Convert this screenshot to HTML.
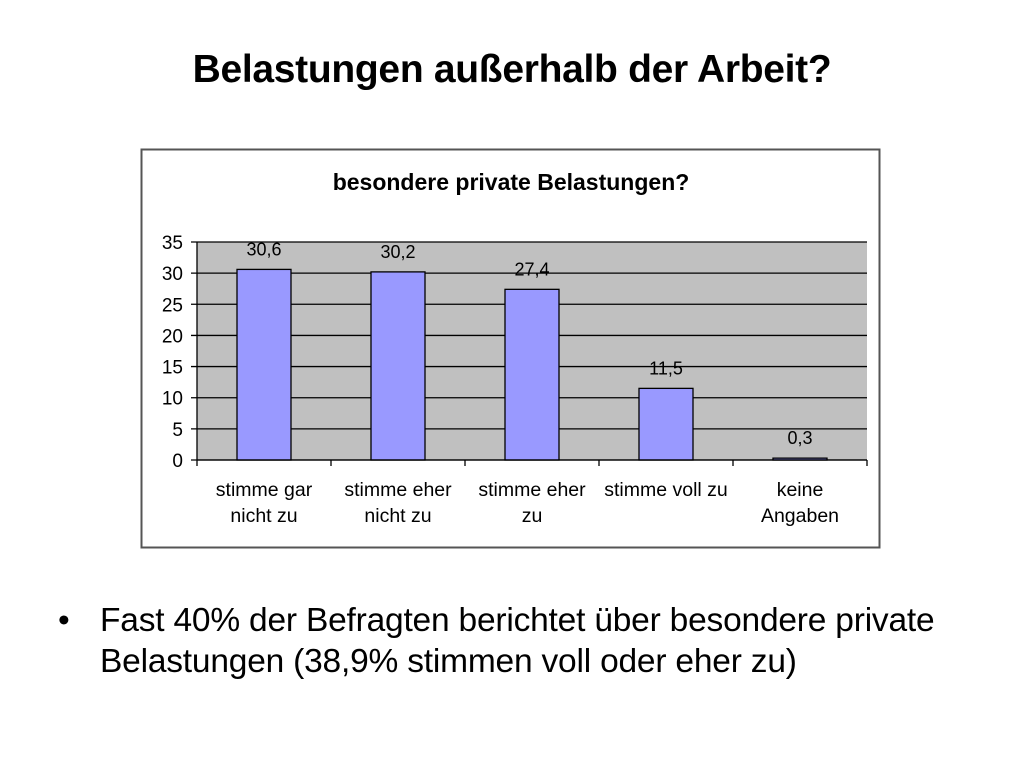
<!DOCTYPE html>
<html><head><meta charset="utf-8"><style>
body{margin:0;width:1024px;height:768px;background:#fff;font-family:"Liberation Sans",sans-serif;overflow:hidden;position:relative}
#title{position:absolute;top:48px;left:0;width:1024px;text-align:center;font-size:39px;font-weight:bold;letter-spacing:-0.3px}
#bullet{position:absolute;top:600px;left:58px;font-size:33.5px;line-height:41px;letter-spacing:-0.2px}
#bullet .t{position:absolute;left:42px;top:0;white-space:nowrap}
</style></head><body>
<div id="title">Belastungen außerhalb der Arbeit?</div>
<svg id="chart" width="1024" height="768" style="position:absolute;left:0;top:0">
<rect x="141.5" y="149.5" width="738" height="398" fill="#fff" stroke="#555" stroke-width="2"/>
<text x="511" y="190" text-anchor="middle" font-size="23" font-weight="bold">besondere private Belastungen?</text>
<g id="g"></g>
</svg>
<div id="bullet"><span>•</span><span class="t">Fast 40% der Befragten berichtet über besondere private<br>Belastungen (38,9% stimmen voll oder eher zu)</span></div>
<script>
const categories=[["stimme gar","nicht zu"],["stimme eher","nicht zu"],["stimme eher","zu"],["stimme voll zu"],["keine","Angaben"]];
const values=[30.6,30.2,27.4,11.5,0.3];
const valueLabels=["30,6","30,2","27,4","11,5","0,3"];
const yTicks=[0,5,10,15,20,25,30,35];
const ns="http://www.w3.org/2000/svg",g=document.getElementById('g');
const X0=197,X1=867,Y0=460,Y1=242,ymax=35;
const y=v=>Y0-(v/ymax)*(Y0-Y1);
const bw=(X1-X0)/categories.length;
function mk(t,a,p){const e=document.createElementNS(ns,t);for(const k in a)e.setAttribute(k,a[k]);(p||g).appendChild(e);return e;}
let bg=mk('rect',{x:X0,y:Y1,width:X1-X0,height:Y0-Y1,fill:'#c0c0c0'});


yTicks.forEach(t=>{
 let l=mk('line',{x1:X0-6,x2:X1,y1:y(t),y2:y(t),stroke:'#000','stroke-width':1.3});
 
 
 let tx=mk('text',{x:183,y:y(t)+7,'text-anchor':'end','font-size':19});tx.textContent=t;
 
 
});
values.forEach((v,i)=>{
 const cx=X0+bw*(i+0.5);
 let r=mk('rect',{x:cx-27,y:y(v),width:54,height:Y0-y(v),fill:'#9999ff',stroke:'#000','stroke-width':1.3});
 
 
 let t=mk('text',{x:cx,y:y(v)-14,'text-anchor':'middle','font-size':18});t.textContent=valueLabels[i];
 
 
 categories[i].forEach((s,j)=>{let c=mk('text',{x:cx,y:496+j*26,'text-anchor':'middle','font-size':19.5});c.textContent=s;
 
 });
});
let ax=mk('line',{x1:X0,x2:X1,y1:Y0,y2:Y0,stroke:'#000','stroke-width':1.3});


let ay=mk('line',{x1:X0,x2:X0,y1:Y1,y2:Y0,stroke:'#000','stroke-width':1.3});


for(let i=0;i<=categories.length;i++){let tk=mk('line',{x1:X0+bw*i,x2:X0+bw*i,y1:Y0,y2:Y0+6,stroke:'#000','stroke-width':1.3});
 
 }
</script>
</body></html>
